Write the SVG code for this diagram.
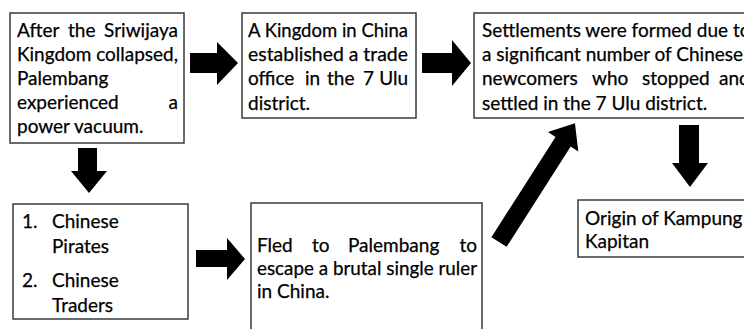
<svg xmlns="http://www.w3.org/2000/svg" width="744" height="329" viewBox="0 0 744 329">
<style>
.box{fill:#fff;stroke:#3a3a3a;stroke-width:1.5}
.t{font-family:Lato,"Open Sans","DejaVu Sans",sans-serif;font-size:19px;fill:#000;stroke:#000;stroke-width:0.25}
.e{text-anchor:end}
.arr{fill:#000}
</style>
<rect width="744" height="329" fill="#fff"/>
<g id="connectors">
<polygon class="arr" points="190,53 217,53 217,42 238,63 217,85 217,73 190,73"/>
<polygon class="arr" points="422,53 452,53 452,40 471,63 452,86 452,73 422,73"/>
<polygon class="arr" points="78,148 97,148 97,171 107,171 89,193 71,171 78,171"/>
<polygon class="arr" points="679,125 699,125 699,163 708,163 690,187 672,163 679,163"/>
<polygon class="arr" points="196,250 227,250 227,238 245,259 227,280 227,267 196,267"/>
<polygon class="arr" transform="translate(499,242) rotate(-57.4)" points="0,-9 119,-9 119,-18 141,0 119,18 119,9 0,9"/>
</g>
<g id="n1">
<rect class="box" x="10" y="13" width="174" height="130"/>
<text class="t" x="17" y="37">After</text><text class="t" x="68" y="37">the</text><text class="t e" x="178" y="37">Sriwijaya</text>
<text class="t" x="17" y="61" textLength="161" lengthAdjust="spacingAndGlyphs">Kingdom collapsed,</text>
<text class="t" x="17" y="85">Palembang</text>
<text class="t" x="17" y="109">experienced</text><text class="t e" x="178" y="109">a</text>
<text class="t" x="17" y="133">power vacuum.</text>
</g>
<g id="n2">
<rect class="box" x="242" y="13" width="174" height="105"/>
<text class="t" x="248" y="37" textLength="160" lengthAdjust="spacingAndGlyphs">A Kingdom in China</text>
<text class="t" x="248" y="61" textLength="160" lengthAdjust="spacingAndGlyphs">established a trade</text>
<text class="t" x="248" y="85">office</text><text class="t" x="305" y="85">in</text><text class="t" x="327" y="85">the</text><text class="t" x="363" y="85">7</text><text class="t e" x="408" y="85">Ulu</text>
<text class="t" x="248" y="110">district.</text>
</g>
<g id="n3">
<rect class="box" x="474" y="13" width="290" height="105"/>
<text class="t" x="482" y="37">Settlements were formed due to</text>
<text class="t" x="482" y="61">a significant number of Chinese</text>
<text class="t" x="482" y="85">newcomers</text><text class="t" x="592" y="85">who</text><text class="t" x="642" y="85">stopped</text><text class="t" x="719" y="85">and</text>
<text class="t" x="482" y="110">settled in the 7 Ulu district.</text>
</g>
<g id="n4">
<rect class="box" x="13" y="204" width="175" height="115"/>
<text class="t" x="22" y="228">1.</text><text class="t" x="52" y="228">Chinese</text>
<text class="t" x="52" y="253">Pirates</text>
<text class="t" x="22" y="287">2.</text><text class="t" x="52" y="287">Chinese</text>
<text class="t" x="52" y="312">Traders</text>
</g>
<g id="n5">
<rect class="box" x="251" y="203" width="231" height="140"/>
<text class="t" x="257" y="252">Fled</text><text class="t" x="312" y="252">to</text><text class="t" x="348" y="252">Palembang</text><text class="t e" x="477" y="252">to</text>
<text class="t" x="257" y="275" textLength="220" lengthAdjust="spacingAndGlyphs">escape a brutal single ruler</text>
<text class="t" x="257" y="298">in China.</text>
</g>
<g id="n6">
<rect class="box" x="578" y="200" width="180" height="57"/>
<text class="t" x="585" y="225">Origin of Kampung</text>
<text class="t" x="585" y="248">Kapitan</text>
</g>
</svg>
